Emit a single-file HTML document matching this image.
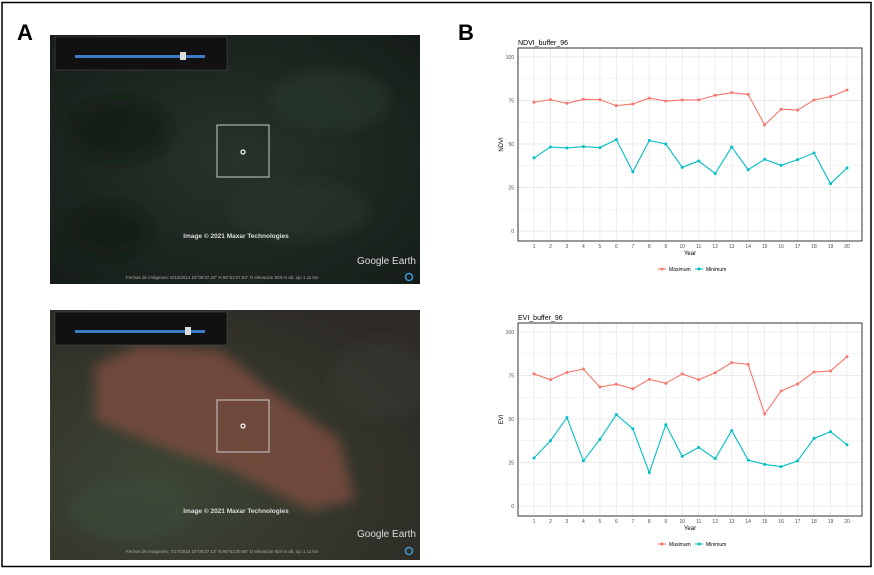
<!DOCTYPE html>
<html><head><meta charset="utf-8"><style>
body{margin:0;background:#fff;width:874px;height:575px;overflow:hidden;font-family:"Liberation Sans",sans-serif}
svg{position:absolute;left:0;top:0}
</style></head><body>
<svg width="874" height="575" id="root">
<defs>
<radialGradient id="gv" cx="50%" cy="50%" r="70%"><stop offset="0" stop-color="#26342a"/><stop offset="1" stop-color="#161d18"/></radialGradient>
<radialGradient id="gv2" cx="30%" cy="70%" r="80%"><stop offset="0" stop-color="#3c4634"/><stop offset="1" stop-color="#2e2b26"/></radialGradient>
<clipPath id="c1"><rect x="50" y="35" width="370" height="249"/></clipPath>
<clipPath id="c2"><rect x="50" y="310" width="370" height="250"/></clipPath>
<filter id="bl"><feGaussianBlur stdDeviation="6"/></filter>
</defs>
<rect x="2" y="2.5" width="869" height="564" fill="none" stroke="#000" stroke-width="1.5"/>
<text x="17" y="40" font-size="22" font-weight="bold">A</text>
<text x="458" y="40" font-size="22" font-weight="bold">B</text>

<g clip-path="url(#c1)">
<rect x="50" y="35" width="370" height="249" fill="url(#gv)"/>
<g filter="url(#bl)">
<ellipse cx="120" cy="130" rx="50" ry="30" fill="#151b16" opacity=".7"/>
<ellipse cx="330" cy="100" rx="60" ry="30" fill="#2a382b" opacity=".6"/>
<ellipse cx="300" cy="210" rx="70" ry="30" fill="#28352a" opacity=".5"/>
<ellipse cx="110" cy="230" rx="40" ry="25" fill="#121813" opacity=".7"/>
</g>
<rect x="55" y="37" width="172" height="33" fill="#111" stroke="#555" stroke-width=".5"/>
<rect x="75" y="55" width="130" height="3" fill="#3b7cc4"/>
<rect x="180" y="52" width="6" height="8" fill="#ddd"/>
<rect x="217" y="125" width="52" height="52" fill="none" stroke="#ccc" stroke-width="1"/>
<circle cx="243" cy="152" r="2" fill="none" stroke="#fff" stroke-width="1.2"/>
<text x="236" y="238" fill="#ddd" font-size="6.5" font-weight="bold" text-anchor="middle">Image © 2021 Maxar Technologies</text>
<text x="357" y="264" fill="#ddd" font-size="10">Google Earth</text>
<text x="126" y="279" fill="#aaa" font-size="4.5">Fechas de imágenes: 6/13/2014    19°06'37.33" N   96°51'27.53" O   elevación  923 m     alt. ojo  1.11 km</text>
<circle cx="409" cy="277" r="3.5" fill="none" stroke="#3a9ad9" stroke-width="1.5"/>
</g>

<g clip-path="url(#c2)">
<rect x="50" y="310" width="370" height="250" fill="url(#gv2)"/>
<g filter="url(#bl)">
<polygon points="95,365 140,345 220,350 270,390 340,440 355,500 310,510 230,470 170,450 95,420" fill="#7d4d40" opacity=".8"/>
<ellipse cx="130" cy="510" rx="60" ry="30" fill="#3b4a36" opacity=".7"/>
<ellipse cx="380" cy="380" rx="50" ry="40" fill="#3a3830" opacity=".5"/>
</g>
<rect x="55" y="312" width="172" height="33" fill="#111" stroke="#555" stroke-width=".5"/>
<rect x="75" y="330" width="130" height="3" fill="#3b7cc4"/>
<rect x="185" y="327" width="6" height="8" fill="#ddd"/>
<rect x="217" y="400" width="52" height="52" fill="none" stroke="#ccc" stroke-width="1"/>
<circle cx="243" cy="426" r="2" fill="none" stroke="#fff" stroke-width="1.2"/>
<text x="236" y="513" fill="#ddd" font-size="6.5" font-weight="bold" text-anchor="middle">Image © 2021 Maxar Technologies</text>
<text x="357" y="537" fill="#ddd" font-size="10">Google Earth</text>
<text x="126" y="553" fill="#aaa" font-size="4.5">Fechas de imágenes: 7/17/2015    19°06'37.13" N   96°51'30.65" O   elevación  924 m     alt. ojo  1.11 km</text>
<circle cx="409" cy="551" r="3.5" fill="none" stroke="#3a9ad9" stroke-width="1.5"/>
</g>
<g id="charts"></g>
</svg>
<script>
const years=[1,2,3,4,5,6,7,8,9,10,11,12,13,14,15,16,17,18,19,20];
const yTicks=[0,25,50,75,100];
const ndviMax=[74,75.5,73.4,75.7,75.5,72,73,76.4,74.7,75.3,75.3,78,79.5,78.5,61,70,69.5,75.3,77.3,81];
const ndviMin=[42,48.3,47.7,48.5,47.9,52.5,34,52,50,36.6,40.2,33,48.3,35.2,41.2,37.7,41,44.8,27.2,36.2];
const eviMax=[75.9,72.6,76.8,78.7,68.4,70,67.4,72.8,70.5,75.9,72.6,76.6,82.4,81.4,52.9,66.1,70.1,77,77.6,85.8];
const eviMin=[27.6,37.5,50.8,25.9,38.3,52.5,44.4,19.2,46.7,28.5,33.7,27.2,43.3,26.4,23.9,22.6,25.9,38.9,42.7,35.2];
const NS="http://www.w3.org/2000/svg";
const root=document.getElementById('charts');
function mk(t,a,p){const e=document.createElementNS(NS,t);for(const k in a)e.setAttribute(k,a[k]);(p||root).appendChild(e);return e;}
function chart(oy,title,ylab,maxS,minS,key){
  const g=mk('g',{});
  
  
  const L=518,R=862,T=oy+18,B=oy+211;
  const x=v=>534+(v-1)*(847-534)/19;
  const y=v=>(oy+201)-v*(174/100);
  mk('rect',{x:L,y:T,width:R-L,height:B-T,fill:'#fff'},g);
  for(let v=0;v<=100;v+=12.5)mk('line',{x1:L,x2:R,y1:y(v),y2:y(v),stroke:'#ebebeb','stroke-width':v%25?0.5:0.9},g);
  years.forEach(v=>mk('line',{x1:x(v),x2:x(v),y1:T,y2:B,stroke:'#ebebeb','stroke-width':0.9},g));
  mk('rect',{x:L,y:T,width:R-L,height:B-T,fill:'none',stroke:'#333','stroke-width':1},g);
  yTicks.forEach(v=>{const t=mk('text',{x:L-4,y:y(v)+2,'font-size':5,fill:'#4d4d4d','text-anchor':'end'},g);t.textContent=v;
    
    });
  years.forEach(v=>{const t=mk('text',{x:x(v),y:B+7,'font-size':5,fill:'#4d4d4d','text-anchor':'middle'},g);t.textContent=v;
    
    });
  let t=mk('text',{x:518,y:oy+15,'font-size':7,fill:'#000'},g);t.textContent=title;
  
  
  t=mk('text',{x:690,y:B+14,'font-size':6,'text-anchor':'middle'},g);t.textContent='Year';
  
  
  t=mk('text',{x:0,y:0,'font-size':6,'text-anchor':'middle',transform:`translate(503,${(T+B)/2}) rotate(-90)`},g);t.textContent=ylab;
  
  
  [[maxS,'#f8766d','maximum'],[minS,'#00bfc4','minimum']].forEach(([s,c,n])=>{
    const pl=mk('polyline',{points:s.map((v,i)=>x(years[i])+','+y(v)).join(' '),fill:'none',stroke:c,'stroke-width':1.1},g);
    
    
    s.forEach((v,i)=>{const p=mk('circle',{cx:x(years[i]),cy:y(v),r:1.5,fill:c},g);
      
      });
  });
  const ly=oy+239;
  [[658,'#f8766d','Maximum'],[695,'#00bfc4','Minimum']].forEach(([lx,c,lab])=>{
    const lg=mk('g',{},g);
    
    
    mk('line',{x1:lx,x2:lx+8,y1:ly,y2:ly,stroke:c,'stroke-width':1.1},lg);
    mk('circle',{cx:lx+4,cy:ly,r:1.5,fill:c},lg);
    const tt=mk('text',{x:lx+11,y:ly+2,'font-size':5,fill:'#000'},lg);tt.textContent=lab;
  });
}
chart(30,'NDVI_buffer_96','NDVI',ndviMax,ndviMin,'ndvi');
chart(305,'EVI_buffer_96','EVI',eviMax,eviMin,'evi');
</script>
</body></html>
